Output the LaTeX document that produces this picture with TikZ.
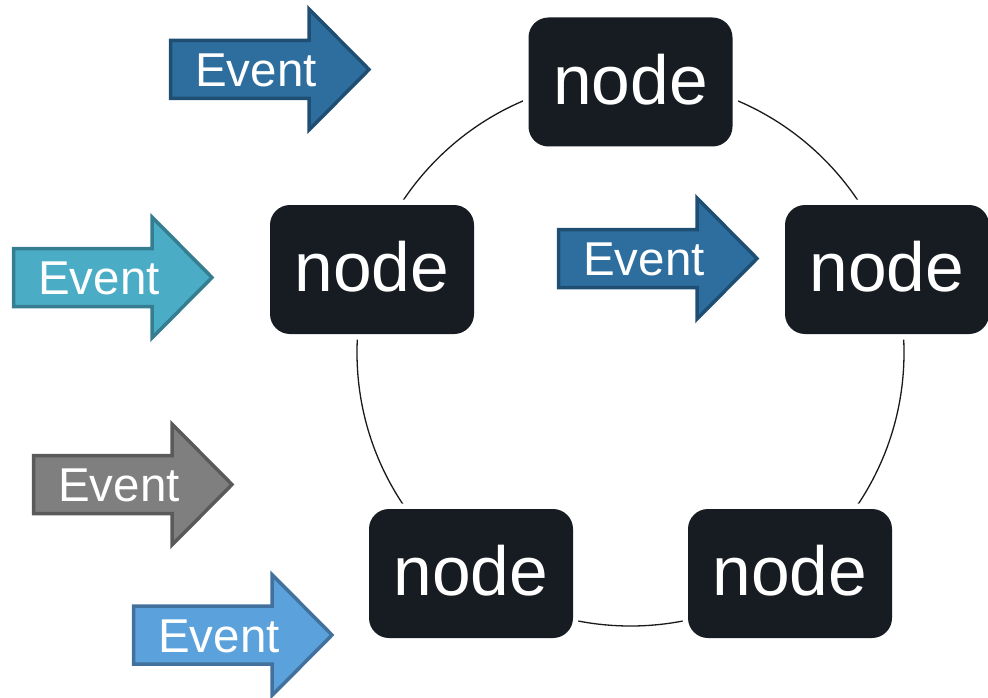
\documentclass[tikz,border=0pt]{standalone}
\usepackage{fontspec}
\setmainfont{Liberation Sans}
\definecolor{nodefill}{HTML}{161C21}
\definecolor{ringline}{HTML}{1A1A1A}
\definecolor{deepblue}{HTML}{2E6E9E}
\definecolor{deepblueedge}{HTML}{1F4E73}
\definecolor{teal}{HTML}{4BACC6}
\definecolor{tealedge}{HTML}{357D91}
\definecolor{greyfill}{HTML}{7F7F7F}
\definecolor{greyedge}{HTML}{5A5A5A}
\definecolor{skyblue}{HTML}{5BA2DC}
\definecolor{skyblueedge}{HTML}{41719C}
\tikzset{
  ringnode/.style={rectangle, rounded corners=20pt, fill=nodefill,
    minimum width=204pt, minimum height=129pt, inner sep=0pt,
    text=white, text depth=6pt,
    font=\fontsize{69.5}{72}\selectfont,
    preaction={draw=white, line width=11pt}},
  evtext/.style={text=white, inner sep=0pt, font=\fontsize{47.5}{50}\selectfont},
  ring/.style={draw=ringline, line width=1.3pt}
}
% block arrow: #1 left end, #2 vertical centre, #3 fill, #4 edge, #5 label node name
\newcommand\eventarrow[5]{%
  \draw[fill=#3, draw=#4, line width=3.5pt, line join=miter]
    (#1+1.5,#2-29) -- (#1+140,#2-29) -- (#1+140,#2-60.5)
    -- (#1+200,#2) -- (#1+140,#2+60.5) -- (#1+140,#2+29)
    -- (#1+1.5,#2+29) -- cycle;
  \node[evtext] (#5) at (#1+87,#2+1) {Event};
}
\begin{document}
\begin{tikzpicture}[x=1pt,y=-1pt]
\useasboundingbox (0,0) rectangle (988,698);

% ring linking the five nodes
\coordinate (hub) at (630.5,352.5);
\draw[ring] (hub) circle[radius=273.5pt];

\node[ringnode] (top)   at (630.5,82)   {node};
\node[ringnode] (upl)   at (372,269.5)  {node};
\node[ringnode] (upr)   at (887,269.5)  {node};
\node[ringnode] (lowl)  at (471,573.5)  {node};
\node[ringnode] (lowr)  at (790,573.5)  {node};

% incoming events
\eventarrow{169}{69.5}{deepblue}{deepblueedge}{ev1}
\eventarrow{12}{277.5}{teal}{tealedge}{ev2}
\eventarrow{32}{484.5}{greyfill}{greyedge}{ev3}
\eventarrow{132}{635}{skyblue}{skyblueedge}{ev4}
\eventarrow{557}{258.5}{deepblue}{deepblueedge}{ev5}
\end{tikzpicture}
\end{document}
